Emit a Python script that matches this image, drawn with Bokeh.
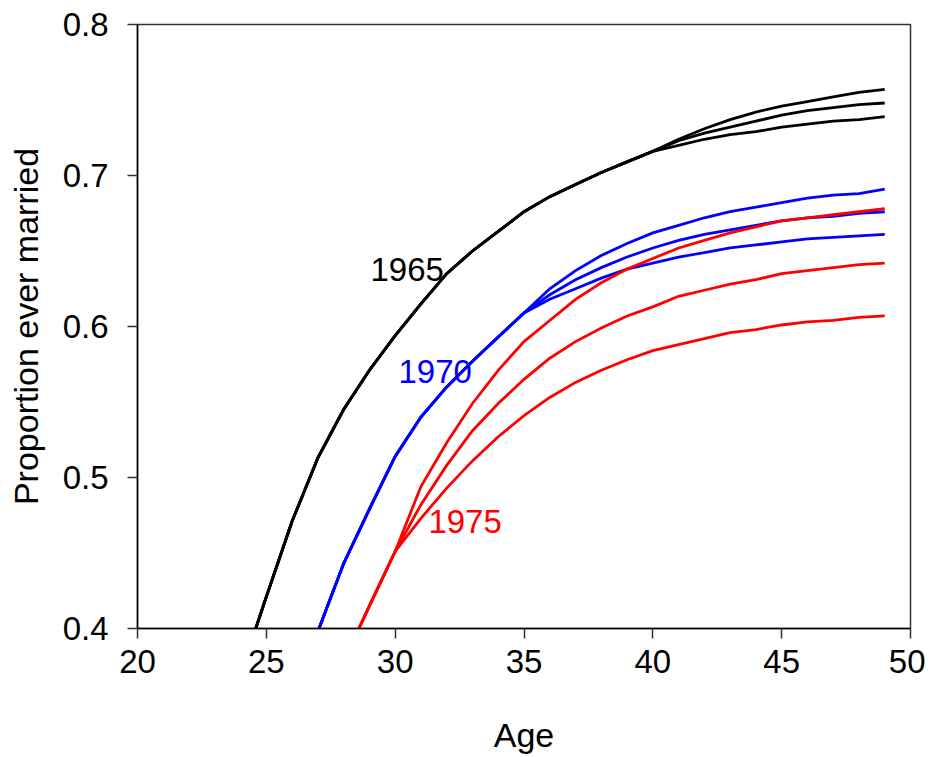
from bokeh.plotting import figure
from bokeh.models import Range1d, FixedTicker, ColumnDataSource
from bokeh.core.properties import value
from bokeh.embed import file_html
from bokeh.resources import INLINE

# ---- data ----
x_ticks = [20, 25, 30, 35, 40, 45, 50]
y_ticks = [0.4, 0.5, 0.6, 0.7, 0.8]

# 1965 cohort: shared part ages 24-40, then three lines 41-49
ages_1965_shared = list(range(24, 41))
vals_1965_shared = [0.370, 0.421, 0.471, 0.513, 0.545, 0.571, 0.594, 0.615, 0.635,
                    0.650, 0.663, 0.676, 0.686, 0.694, 0.702, 0.709, 0.716]
ages_1965_tail = list(range(41, 50))
vals_1965_a = [0.724, 0.731, 0.737, 0.742, 0.746, 0.749, 0.752, 0.755, 0.757]
vals_1965_b = [0.723, 0.728, 0.732, 0.736, 0.740, 0.743, 0.745, 0.747, 0.748]
vals_1965_c = [0.720, 0.724, 0.727, 0.729, 0.732, 0.734, 0.736, 0.737, 0.739]

# 1970 cohort: shared ages 27-35, then three lines 36-49
ages_1970_shared = list(range(27, 36))
vals_1970_shared = [0.398, 0.443, 0.479, 0.514, 0.540, 0.560, 0.577, 0.593, 0.609]
ages_1970_tail = list(range(36, 50))
vals_1970_a = [0.625, 0.637, 0.647, 0.655, 0.662, 0.667, 0.672, 0.676, 0.679, 0.682,
               0.685, 0.687, 0.688, 0.691]
vals_1970_b = [0.621, 0.631, 0.639, 0.646, 0.652, 0.657, 0.661, 0.664, 0.667, 0.670,
               0.672, 0.673, 0.675, 0.676]
vals_1970_c = [0.618, 0.625, 0.632, 0.638, 0.642, 0.646, 0.649, 0.652, 0.654, 0.656,
               0.658, 0.659, 0.660, 0.661]

# 1975 cohort: shared ages 28-30, then three lines 31-49
ages_1975_shared = [28, 29, 30]
vals_1975_shared = [0.378, 0.415, 0.451]
ages_1975_tail = list(range(31, 50))
vals_1975_a = [0.494, 0.523, 0.549, 0.571, 0.590, 0.604, 0.618, 0.629, 0.638, 0.645,
               0.652, 0.657, 0.662, 0.666, 0.670, 0.672, 0.674, 0.676, 0.678]
vals_1975_b = [0.482, 0.508, 0.531, 0.549, 0.565, 0.579, 0.590, 0.599, 0.607, 0.613,
               0.620, 0.624, 0.628, 0.631, 0.635, 0.637, 0.639, 0.641, 0.642]
vals_1975_c = [0.473, 0.493, 0.511, 0.527, 0.541, 0.553, 0.563, 0.571, 0.578, 0.584,
               0.588, 0.592, 0.596, 0.598, 0.601, 0.603, 0.604, 0.606, 0.607]

cohort_labels = ["1965", "1970", "1975"]
label_x = [29.04, 30.13, 31.29]
label_y = [0.638, 0.570, 0.471]
cohort_colors = ["#000000", "#0000FF", "#FF0000"]

FONT = "Liberation Sans"

p = figure(width=925, height=756, output_backend="svg", toolbar_location=None,
           x_range=Range1d(20, 50), y_range=Range1d(0.4, 0.8),
           min_border_left=137, min_border_right=15, min_border_top=24,
           min_border_bottom=10)

p.xgrid.visible = False
p.ygrid.visible = False
p.outline_line_color = "#333333"
p.outline_line_width = 1.5
p.background_fill_color = "white"
p.border_fill_color = "white"

cohorts = [
    (ages_1965_shared, vals_1965_shared, ages_1965_tail, [vals_1965_a, vals_1965_b, vals_1965_c]),
    (ages_1970_shared, vals_1970_shared, ages_1970_tail, [vals_1970_a, vals_1970_b, vals_1970_c]),
    (ages_1975_shared, vals_1975_shared, ages_1975_tail, [vals_1975_a, vals_1975_b, vals_1975_c]),
]

for (a_sh, v_sh, a_tail, tails), col in zip(cohorts, cohort_colors):
    for tail in tails:
        xs = a_sh + a_tail
        ys = v_sh + tail
        p.line(xs, ys, line_color=col, line_width=2.8, line_join="miter")

for lab, lx, ly, col in zip(cohort_labels, label_x, label_y, cohort_colors):
    src = ColumnDataSource(dict(x=[lx], y=[ly], t=[lab]))
    p.text(x="x", y="y", text="t", source=src, text_color=col,
           text_font=value(FONT), text_font_size="33px",
           text_align="left", text_baseline="middle")

p.xaxis.ticker = FixedTicker(ticks=x_ticks)
p.yaxis.ticker = FixedTicker(ticks=y_ticks)
for ax in (p.xaxis, p.yaxis):
    ax.axis_line_color = "#000000"
    ax.axis_line_width = 1.5
    ax.major_tick_line_color = "#333333"
    ax.major_tick_line_width = 1.5
    ax.major_tick_out = 10
    ax.major_tick_in = 0
    ax.minor_tick_line_color = None
    ax.major_label_text_font = FONT
    ax.major_label_text_font_size = "33px"
    ax.major_label_text_color = "#000000"
    ax.axis_label_text_font = FONT
    ax.axis_label_text_font_size = "34px"
    ax.axis_label_text_font_style = "normal"
    ax.axis_label_text_color = "#000000"

p.xaxis.axis_label = "Age"
p.yaxis.axis_label = "Proportion ever married"
p.xaxis.major_label_standoff = 11
p.yaxis.major_label_standoff = 19
p.xaxis.axis_label_standoff = 40
p.yaxis.axis_label_standoff = 15

open("out.html", "w").write(file_html(p, INLINE))
